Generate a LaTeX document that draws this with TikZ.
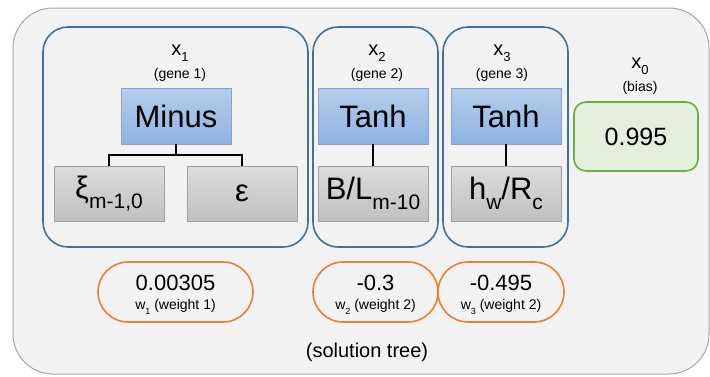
\documentclass[tikz,border=0pt]{standalone}
\usepackage{fontspec}
\setmainfont{Liberation Sans}
\usetikzlibrary{calc}
\definecolor{bgfill}{HTML}{F2F2F2}
\definecolor{bgline}{HTML}{A6A6A6}
\definecolor{geneline}{HTML}{41719C}
\definecolor{optop}{HTML}{B4CDEB}
\definecolor{opbot}{HTML}{8EB4E3}
\definecolor{opline}{HTML}{8EA2BF}
\definecolor{leaftop}{HTML}{DCDCDC}
\definecolor{leafbot}{HTML}{C0C0C0}
\definecolor{leafline}{HTML}{A0A0A0}
\definecolor{biasfill}{HTML}{E2EFDA}
\definecolor{biasline}{HTML}{70AD47}
\definecolor{wline}{HTML}{ED7D31}
\newcommand\mysize[1]{\fontsize{#1}{#1}\selectfont}
\newcommand\lsub[3]{\raisebox{#1}{\mysize{#2}#3}}
\tikzset{
  outerbox/.style={draw=bgline, fill=bgfill, line width=1pt, rounded corners=40pt},
  genebox/.style={draw=geneline, line width=1.6pt, rounded corners=25pt, minimum height=220pt, inner sep=0pt},
  opbox/.style={draw=opline, top color=optop, bottom color=opbot, minimum width=110pt, minimum height=56pt, inner sep=0pt, line width=0.8pt, font=\mysize{31}},
  leafbox/.style={draw=leafline, top color=leaftop, bottom color=leafbot, minimum width=110pt, minimum height=55pt, inner sep=0pt, line width=0.8pt, font=\mysize{31}},
  biasbox/.style={draw=biasline, fill=biasfill, line width=1.6pt, rounded corners=12pt, minimum width=124pt, minimum height=69pt, inner sep=0pt, font=\mysize{25}},
  wbox/.style={draw=wline, line width=1.6pt, rounded corners=30pt, minimum height=60pt, inner sep=0pt},
  wnum/.style={font=\mysize{22}, inner sep=0pt},
  wlab/.style={font=\mysize{14}, inner sep=0pt},
  xlab/.style={font=\mysize{20}, inner sep=0pt},
  glab/.style={font=\mysize{14}, inner sep=0pt},
  link/.style={draw=black, line width=1.6pt}
}
\begin{document}
\begin{tikzpicture}[x=1pt,y=-1pt]
\useasboundingbox (0,0) rectangle (710,376);
\draw[outerbox] (13,8) rectangle (709,374);
% gene boxes
\node[genebox, minimum width=265pt] (g1) at (175.5,137) {};
\node[genebox, minimum width=125pt] (g2) at (375.5,137) {};
\node[genebox, minimum width=125pt] (g3) at (505.5,137) {};
% labels
\node[xlab] (x1) at (180,53) {x\lsub{-0.3em}{13}{1}};
\node[glab] (gl1) at (180,75) {(gene 1)};
\node[xlab] (x2) at (377,53) {x\lsub{-0.3em}{13}{2}};
\node[glab] (gl2) at (377,75) {(gene 2)};
\node[xlab] (x3) at (502,53) {x\lsub{-0.3em}{13}{3}};
\node[glab] (gl3) at (502,75) {(gene 3)};
\node[xlab] (x0) at (640,66) {x\lsub{-0.3em}{13}{0}};
\node[glab] (bl) at (640,88) {(bias)};
% operator boxes
\node[opbox] (minus) at (176,116) {Minus};
\node[opbox] (tanh2) at (373,116) {Tanh};
\node[opbox] (tanh3) at (506,116) {Tanh};
% leaves
\node[leafbox] (xi) at (109,193.5) {ξ\lsub{-0.3em}{21}{m-1,0}};
\node[leafbox] (eps) at (242,193.5) {ε};
\node[leafbox] (bl2) at (373,193.5) {B/L\lsub{-0.3em}{21}{m-10}};
\node[leafbox] (hw) at (506,193.5) {h\lsub{-0.3em}{21}{w}/R\lsub{-0.3em}{21}{c}};
% connectors
\coordinate (mid) at (176,155);
\draw[link] (minus.south) -- (mid);
\draw[link] (mid) -| (xi.north);
\draw[link] (mid) -| (eps.north);
\draw[link] (tanh2.south) -- (bl2.north);
\draw[link] (tanh3.south) -- (hw.north);
% bias
\node[biasbox] (bias) at (636,136.5) {0.995};
% weights
\node[wbox, minimum width=155pt] (w1) at (175.5,292) {};
\node[wbox, minimum width=125pt] (w2) at (375.5,292) {};
\node[wbox, minimum width=126pt] (w3) at (501,292) {};
\node[wnum] (n1) at (175.5,283) {0.00305};
\node[wlab] (l1) at (175.5,307) {w\lsub{-0.3em}{9}{1} (weight 1)};
\node[wnum] (n2) at (375.5,283) {-0.3};
\node[wlab] (l2) at (375.5,307) {w\lsub{-0.3em}{9}{2} (weight 2)};
\node[wnum] (n3) at (501,283) {-0.495};
\node[wlab] (l3) at (501,307) {w\lsub{-0.3em}{9}{3} (weight 2)};
\node[font=\mysize{20}, inner sep=0pt] (sol) at (367,352) {(solution tree)};
\end{tikzpicture}
\end{document}
